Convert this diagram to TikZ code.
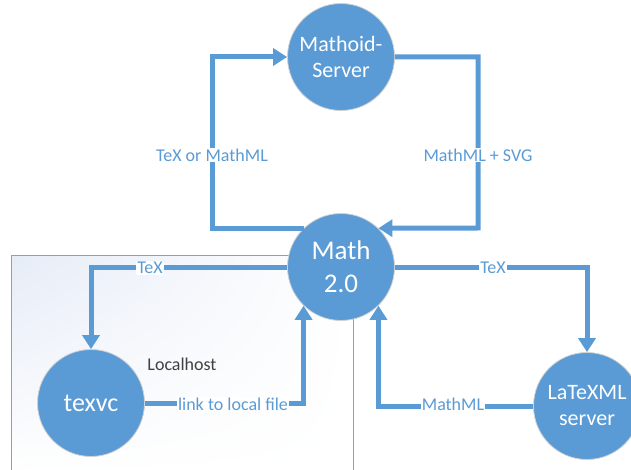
\documentclass[tikz,border=0pt]{standalone}
\usepackage{fontspec}
\setmainfont{Carlito}
\usetikzlibrary{arrows.meta,shadings}
\definecolor{officeblue}{RGB}{91,155,213}
\definecolor{boxedge}{RGB}{120,163,220}
\definecolor{boxtint}{RGB}{230,236,247}
\definecolor{labelgray}{RGB}{64,64,64}
\tikzset{
  proc/.style={circle, fill=officeblue, draw=black!18, line width=0.8pt, minimum size=107pt, inner sep=0pt, text=white, align=center},
  flow/.style={draw=officeblue, line width=5pt, -{Triangle[length=14pt,width=17pt]}},
  flowlbl/.style={fill=white, text=officeblue, font=\fontsize{18}{20}\selectfont, inner sep=1pt}
}
\begin{document}
\begin{tikzpicture}[x=1pt,y=-1pt]
\useasboundingbox (0,0) rectangle (631,470);
% localhost area
\shade[upper left=boxtint, upper right=white, lower left=white, lower right=white] (11,255) rectangle (353,475);
\draw[boxedge, line width=1pt] (11,480) -- (11,255) -- (353,255) -- (353,480);
\node[text=labelgray, font=\fontsize{18}{20}\selectfont] (lh) at (182,364) {Localhost};
% processes
\node[proc, font=\fontsize{22}{26}\selectfont] (mathoid) at (341,57) {Mathoid-\\Server};
\node[proc, font=\fontsize{27}{33}\selectfont] (math) at (341,267) {Math\\2.0};
\node[proc, font=\fontsize{26}{30}\selectfont] (texvc) at (91,403) {texvc};
\node[proc, font=\fontsize{22}{26}\selectfont] (latexml) at (587,406) {LaTeXML\\server};
% connectors
\draw[flow] (math.134) -| (212,140) -- (212,57) -- (mathoid.west);
\draw[flow] (mathoid.east) -| (478,140) -- (478,228) -- (math.46);
\draw[flow] (math.west) -| (texvc.north);
\draw[flow] (math.east) -| (latexml.north);
\draw[flow] (texvc.east) -| (math.226);
\draw[flow] (latexml.west) -| (math.314);
% labels
\node[flowlbl] (l1) at (212,155) {TeX or MathML};
\node[flowlbl] (l2) at (478,155) {MathML + SVG};
\node[flowlbl] (l3) at (150,268) {TeX};
\node[flowlbl] (l4) at (493,268) {TeX};
\node[flowlbl] (l5) at (233,404) {link to local file};
\node[flowlbl] (l6) at (453,404) {MathML};
\end{tikzpicture}
\end{document}
